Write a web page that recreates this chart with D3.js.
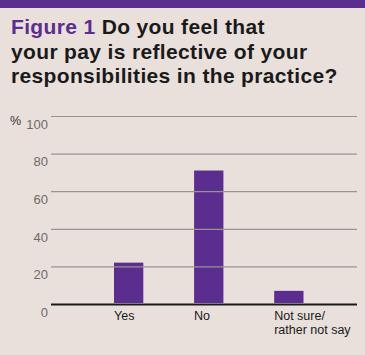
<!DOCTYPE html>
<html><head><meta charset="utf-8">
<script src="https://cdn.jsdelivr.net/npm/d3@7"></script>
<style>
html,body{margin:0;padding:0;background:#e9e0dc;}
svg{display:block;}
</style></head>
<body>
<svg id="c" width="365" height="355"></svg>
<script>
const categories = ["Yes", "No", "Not sure/\nrather not say"];
const values = [22, 71, 7];
const yTicks = [0, 20, 40, 60, 80, 100];
const titleLead = "Figure 1";
const titleLines = ["Do you feel that", "your pay is reflective of your", "responsibilities in the practice?"];

const svg = d3.select("#c");
const W = 365, H = 355;
svg.append("rect").attr("width", W).attr("height", H).attr("fill", "#e9e0dc");
svg.append("rect").attr("x", 0).attr("y", 0).attr("width", W).attr("height", 8).attr("fill", "#5b2d8e");

const font = "Liberation Sans, Arial, sans-serif";
const t = svg.append("text").attr("font-family", font).attr("font-weight", "bold")
  .attr("font-size", 21).attr("letter-spacing", 0.35).attr("fill", "#1a1a1a");
t.append("tspan").attr("x", 11).attr("y", 34).attr("fill", "#5b2d8e").text(titleLead + " ");
t.append("tspan").text(titleLines[0]);
titleLines.slice(1).forEach((l, i) => {
  t.append("tspan").attr("x", 11).attr("y", 34 + 24.5 * (i + 1)).text(l);
});

const x0 = 51, x1 = 357;
const y = d3.scaleLinear().domain([0, 100]).range([304, 116]);
const x = d3.scaleBand().domain(categories).range([114, 303.5]).paddingInner(0.634).paddingOuter(0);

// gridlines
const yAxis = d3.axisLeft(y).tickValues(yTicks).tickSize(-(x1 - x0)).tickPadding(4);
const ga = svg.append("g").attr("transform", `translate(${x0},0)`).call(yAxis);
ga.select(".domain").remove();
ga.selectAll(".tick line").attr("stroke", "#9a9490").attr("stroke-width", 1.2);
ga.selectAll(".tick text").attr("font-family", font).attr("font-size", 13)
  .attr("fill", "#706a67").attr("dy", "0.95em").attr("x", -3);
ga.selectAll(".tick").filter(d => d === 0).select("line").attr("stroke", "#1a1a1a").attr("stroke-width", 2.2);

svg.append("text").attr("x", 10).attr("y", 124.5).attr("font-family", font).attr("font-size", 12.5)
  .attr("fill", "#333").text("%");

// bars
svg.append("g").selectAll("rect").data(values).join("rect")
  .attr("x", (d, i) => x(categories[i]))
  .attr("width", x.bandwidth())
  .attr("y", d => y(d))
  .attr("height", d => y(0) - y(d) - 1)
  .attr("fill", "#5b2d8e");
ga.raise();

// category labels
const lab = svg.append("g").attr("font-family", font).attr("font-size", 12.5).attr("fill", "#1a1a1a");
categories.forEach(c => {
  const txt = lab.append("text").attr("y", 320);
  c.split("\n").forEach((s, j) => {
    txt.append("tspan").attr("x", x(c)).attr("y", 320 + j * 13.5).text(s);
  });
});
</script>
</body></html>
